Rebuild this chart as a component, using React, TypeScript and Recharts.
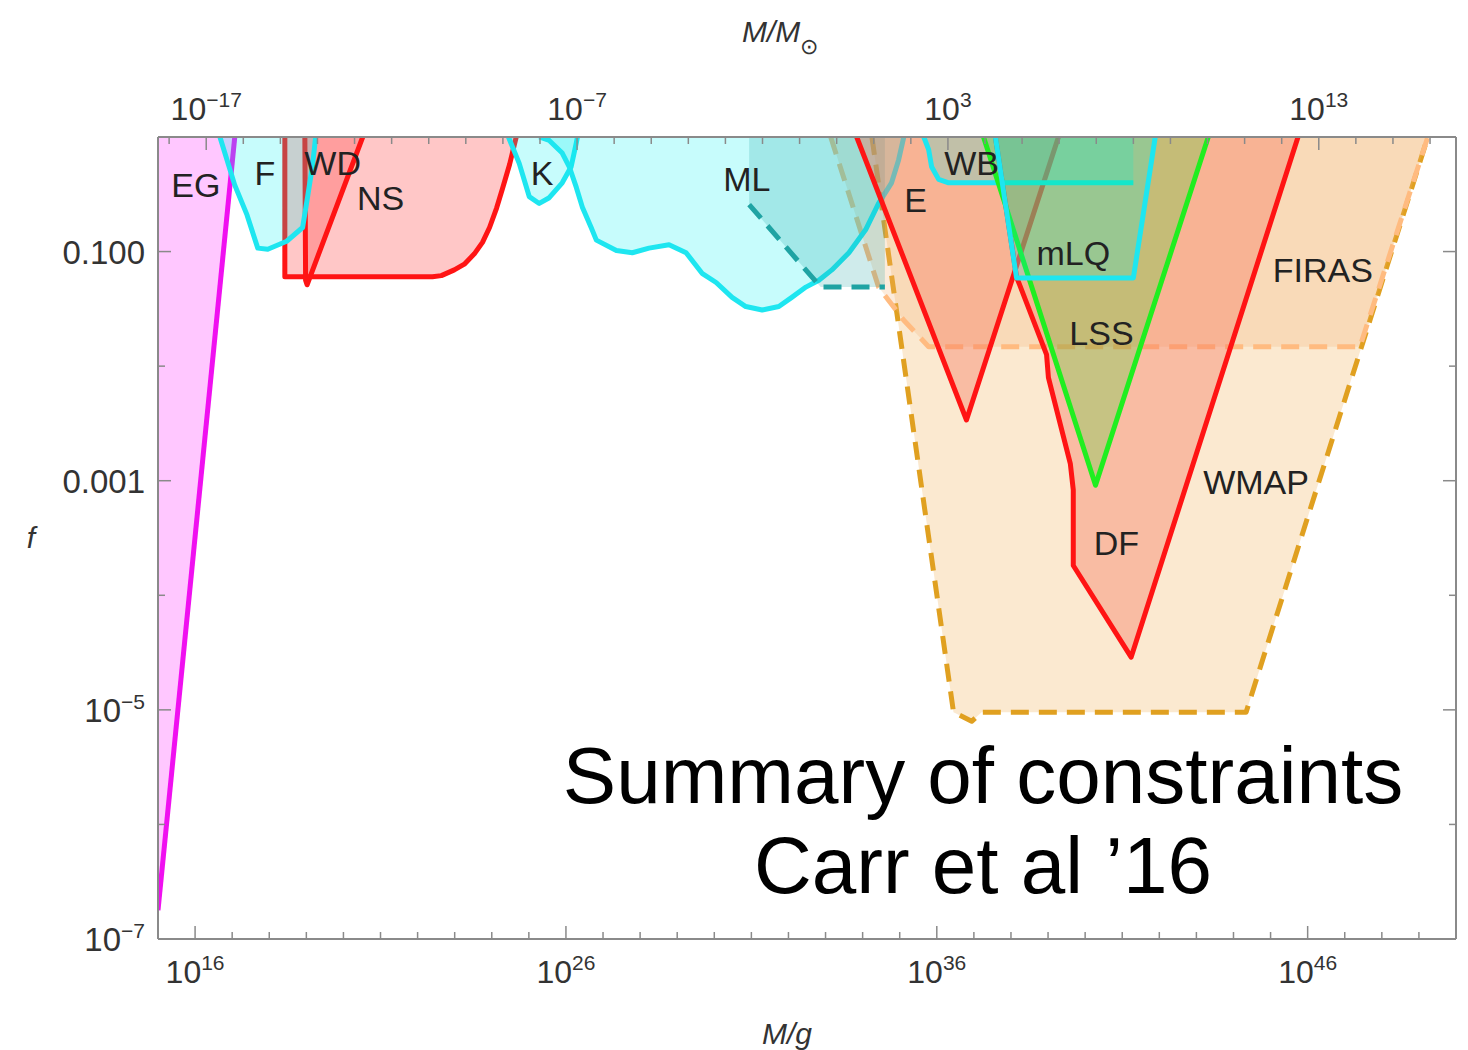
import React from "react";
import { ComposedChart, Area, Scatter, XAxis, YAxis } from "recharts";

type Pt = { x: number; y: number };
const toPts = (a: number[][]): Pt[] => a.map(([x, y]) => ({ x, y }));

// x = log10(M/g), y = log10(f); every region is excluded above its bound
const egBound = toPts([[15.0, -6.75], [17.07, 0]]);
const fBound = toPts([
  [16.67, 0], [17.07, -0.42], [17.4, -0.68], [17.69, -0.97], [17.96, -0.98],
  [18.47, -0.91], [18.9, -0.79], [19.04, -0.51], [19.17, -0.24], [19.25, 0],
]);
const nsBound = toPts([
  [18.42, 0], [18.42, -1.22], [22.4, -1.22], [22.64, -1.21], [22.99, -1.16],
  [23.26, -1.11], [23.53, -1.02], [23.75, -0.92], [23.94, -0.79], [24.13, -0.62],
  [24.29, -0.45], [24.48, -0.24], [24.66, 0],
]);
const wdBound = toPts([[18.96, 0], [18.98, -1.25], [19.02, -1.29], [20.52, 0]]);
const kBound = toPts([
  [24.45, 0], [24.74, -0.23], [25.01, -0.52], [25.28, -0.58], [25.55, -0.53],
  [25.9, -0.4], [26.14, -0.26], [26.28, -0.05], [26.31, 0],
]);
const mlBound = toPts([
  [25.28, 0], [25.55, -0.03], [25.9, -0.14], [26.09, -0.26], [26.28, -0.44],
  [26.44, -0.61], [26.68, -0.79], [26.82, -0.9], [27.36, -0.99], [27.79, -1.01],
  [28.24, -0.97], [28.78, -0.94], [29.24, -1.01], [29.67, -1.19], [30.05, -1.27],
  [30.48, -1.4], [30.85, -1.48], [31.29, -1.51], [31.74, -1.48], [32.09, -1.4],
  [32.47, -1.31], [32.82, -1.25], [33.17, -1.16], [33.63, -1.01], [34.08, -0.81],
  [34.43, -0.58], [34.78, -0.4], [34.97, -0.2], [35.11, 0],
]);
const mlDashBound = toPts([[30.94, 0], [30.94, -0.59], [32.87, -1.31], [34.6, -1.31], [34.6, 0]]);
const eBound = toPts([[33.84, 0], [36.8, -2.47], [39.28, 0]]);
const dfBound = toPts([
  [37.58, 0], [38.15, -1.22], [38.96, -1.9], [39.01, -2.1], [39.6, -2.85],
  [39.68, -3.08], [39.68, -3.74], [41.24, -4.54], [45.74, 0],
]);
const wbBound = toPts([
  [35.65, 0], [35.78, -0.11], [35.86, -0.26], [36.05, -0.37], [36.32, -0.4], [41.3, -0.4],
]);
const lssBound = toPts([[37.26, 0], [40.28, -3.04], [43.32, 0]]);
const mlqBound = toPts([[37.58, 0], [38.15, -1.23], [41.3, -1.23], [41.89, 0]]);
const firasBound = toPts([
  [33.14, 0], [34.43, -1.31], [35.11, -1.6], [35.78, -1.83], [47.41, -1.83], [49.24, 0],
]);
const wmapBound = toPts([
  [34.25, 0], [36.45, -5.02], [36.94, -5.1], [37.21, -5.02], [44.34, -5.02], [49.24, 0],
]);

const regionLabels = [
  { name: "EG", x: 16.02, y: -0.42 },
  { name: "F", x: 17.88, y: -0.31 },
  { name: "WD", x: 19.71, y: -0.23 },
  { name: "NS", x: 21.0, y: -0.53 },
  { name: "K", x: 25.36, y: -0.31 },
  { name: "ML", x: 30.88, y: -0.37 },
  { name: "E", x: 35.43, y: -0.55 },
  { name: "WB", x: 36.94, y: -0.23 },
  { name: "mLQ", x: 39.68, y: -1.01 },
  { name: "LSS", x: 40.44, y: -1.71 },
  { name: "FIRAS", x: 46.41, y: -1.16 },
  { name: "WMAP", x: 44.61, y: -3.01 },
  { name: "DF", x: 40.84, y: -3.54 },
];

const LOG_MSUN = 33.3;
const gTicks = Array.from({ length: 34 }, (_, i) => 16 + i);
const gMajor = [16, 26, 36, 46];
const sunExps = Array.from({ length: 35 }, (_, i) => -18 + i);
const sunTicks = sunExps.map((n) => n + LOG_MSUN);
const sunMajor = [-17, -7, 3, 13];
const fTicks = [-7, -6, -5, -4, -3, -2, -1, 0];
const fLabels: Record<number, [string, string]> = {
  [-1]: ["0.100", ""],
  [-3]: ["0.001", ""],
  [-5]: ["10", "−5"],
  [-7]: ["10", "−7"],
};

const AXIS = "#8a8a8a";
const TXT = "#333";
const RED = "#ff1414";
const CYAN = "#1ee6f0";
const DASH = "18 10";

const regions = [
  { id: "wmap", data: wmapBound, fill: "#f5c98a", op: 0.4, stroke: "#e0a020", dash: DASH },
  { id: "firas", data: firasBound, fill: "#f5b070", op: 0.25, stroke: "#ffbb80", dash: DASH },
  { id: "eg", data: egBound, fill: "#ff30ff", op: 0.27, stroke: "#f010f0" },
  { id: "ns", data: nsBound, fill: "#ff3030", op: 0.27, stroke: RED },
  { id: "wd", data: wdBound, fill: "#ff3030", op: 0.27, stroke: RED },
  { id: "f", data: fBound, fill: "#00f0f0", op: 0.22, stroke: CYAN },
  { id: "k", data: kBound, fill: "#00f0f0", op: 0.22, stroke: CYAN },
  { id: "ml", data: mlBound, fill: "#00f0f0", op: 0.22, stroke: CYAN },
  { id: "mldash", data: mlDashBound, fill: "#109c9c", op: 0.2, stroke: "none" },
  { id: "mldashline", data: mlDashBound.slice(1, 4), fill: "none", op: 0, stroke: "#1fa3a3", dash: DASH },
  { id: "e", data: eBound, fill: "#f87860", op: 0.4, stroke: RED },
  { id: "df", data: dfBound, fill: "#f87860", op: 0.4, stroke: RED },
  { id: "wb", data: wbBound, fill: "#00f0f0", op: 0.22, stroke: CYAN },
  { id: "lss", data: lssBound, fill: "#10e010", op: 0.22, stroke: "#20ee20" },
  { id: "mlq", data: mlqBound, fill: "#00f0f0", op: 0.22, stroke: CYAN },
];

const BottomTick = ({ x, y, payload }: any) => {
  const v = payload.value;
  const major = gMajor.includes(v);
  return (
    <g>
      <line x1={x} x2={x} y1={y} y2={y - (major ? 13 : 7)} stroke={AXIS} strokeWidth={1.5} />
      {major && (
        <text x={x} y={y + 44} textAnchor="middle" fontSize={32} fill={TXT}>
          10<tspan dy={-13} fontSize={21}>{v}</tspan>
        </text>
      )}
    </g>
  );
};

const TopTick = ({ x, y, payload }: any) => {
  const n = Math.round(payload.value - LOG_MSUN);
  const major = sunMajor.includes(n);
  return (
    <g>
      <line x1={x} x2={x} y1={y} y2={y + (major ? 13 : 7)} stroke={AXIS} strokeWidth={1.5} />
      {major && (
        <text x={x} y={y - 17} textAnchor="middle" fontSize={32} fill={TXT}>
          10<tspan dy={-13} fontSize={21}>{n < 0 ? "−" + Math.abs(n) : String(n)}</tspan>
        </text>
      )}
    </g>
  );
};

const LeftTick = ({ x, y, payload }: any) => {
  const lab = fLabels[payload.value];
  return (
    <g>
      <line x1={x} x2={x + (lab ? 13 : 7)} y1={y} y2={y} stroke={AXIS} strokeWidth={1.5} />
      {lab && (
        <text x={x - 13} y={y + 12} textAnchor="end" fontSize={33} fill={TXT}>
          {lab[0]}
          {lab[1] && <tspan dy={-13} fontSize={21}>{lab[1]}</tspan>}
        </text>
      )}
    </g>
  );
};

const RightTick = ({ x, y, payload }: any) => {
  const lab = fLabels[payload.value];
  return <line x1={x} x2={x - (lab ? 13 : 7)} y1={y} y2={y} stroke={AXIS} strokeWidth={1.5} />;
};

const RegionLabel = ({ cx, cy, payload }: any) => (
  <text x={cx} y={cy} textAnchor="middle" dominantBaseline="central" fontSize={34} fill="#222">
    {payload.name}
  </text>
);

export default function App() {
  const axisLine = { stroke: AXIS, strokeWidth: 2 };
  return (
    <div style={{ position: "relative", width: 1460, height: 1042, fontFamily: '"Liberation Sans", Arial, sans-serif' }}>
      <ComposedChart width={1460} height={1042} margin={{ top: 69, right: 2, bottom: 51, left: 50 }}>
        <XAxis
          dataKey="x" type="number" domain={[15, 50]} allowDataOverflow ticks={gTicks} interval={0}
          tick={BottomTick} tickLine={false} tickSize={0} tickMargin={0} height={60} axisLine={axisLine}
        />
        <XAxis
          xAxisId="top" orientation="top" dataKey="x" type="number" domain={[15, 50]} allowDataOverflow
          ticks={sunTicks} interval={0} tick={TopTick} tickLine={false} tickSize={0} tickMargin={0}
          height={60} axisLine={axisLine}
        />
        <YAxis
          type="number" domain={[-7, 0]} allowDataOverflow ticks={fTicks} interval={0}
          tick={LeftTick} tickLine={false} tickSize={0} tickMargin={0} width={100} axisLine={axisLine}
        />
        <YAxis
          yAxisId="right" orientation="right" type="number" domain={[-7, 0]} allowDataOverflow ticks={fTicks}
          interval={0} tick={RightTick} tickLine={false} tickSize={0} tickMargin={0} width={10} axisLine={axisLine}
        />
        {regions.map((r) => (
          <Area
            key={r.id}
            data={r.data}
            dataKey="y"
            type="linear"
            baseValue={0}
            fill={r.fill}
            fillOpacity={r.op}
            stroke={r.stroke}
            strokeWidth={5}
            strokeDasharray={r.dash}
            strokeLinejoin="round"
            dot={false}
            activeDot={false}
            isAnimationActive={false}
          />
        ))}
        <Scatter data={regionLabels} dataKey="y" shape={RegionLabel} isAnimationActive={false} />
      </ComposedChart>
      <svg width={1460} height={1042} style={{ position: "absolute", left: 0, top: 0, pointerEvents: "none" }}>
        <text x={734} y={34} fontSize={30} fontStyle="italic" fill={TXT}>
          M/M<tspan dy={12} fontSize={22} fontStyle="normal">⊙</tspan>
        </text>
        <text x={779} y={1036} textAnchor="middle" fontSize={30} fontStyle="italic" fill={TXT}>M/g</text>
        <text x={23} y={540} textAnchor="middle" fontSize={30} fontStyle="italic" fill={TXT}>f</text>
        <text x={975} y={795} textAnchor="middle" fontSize={80} fill="#000">Summary of constraints</text>
        <text x={975} y={885} textAnchor="middle" fontSize={80} fill="#000">Carr et al ’16</text>
      </svg>
    </div>
  );
}
